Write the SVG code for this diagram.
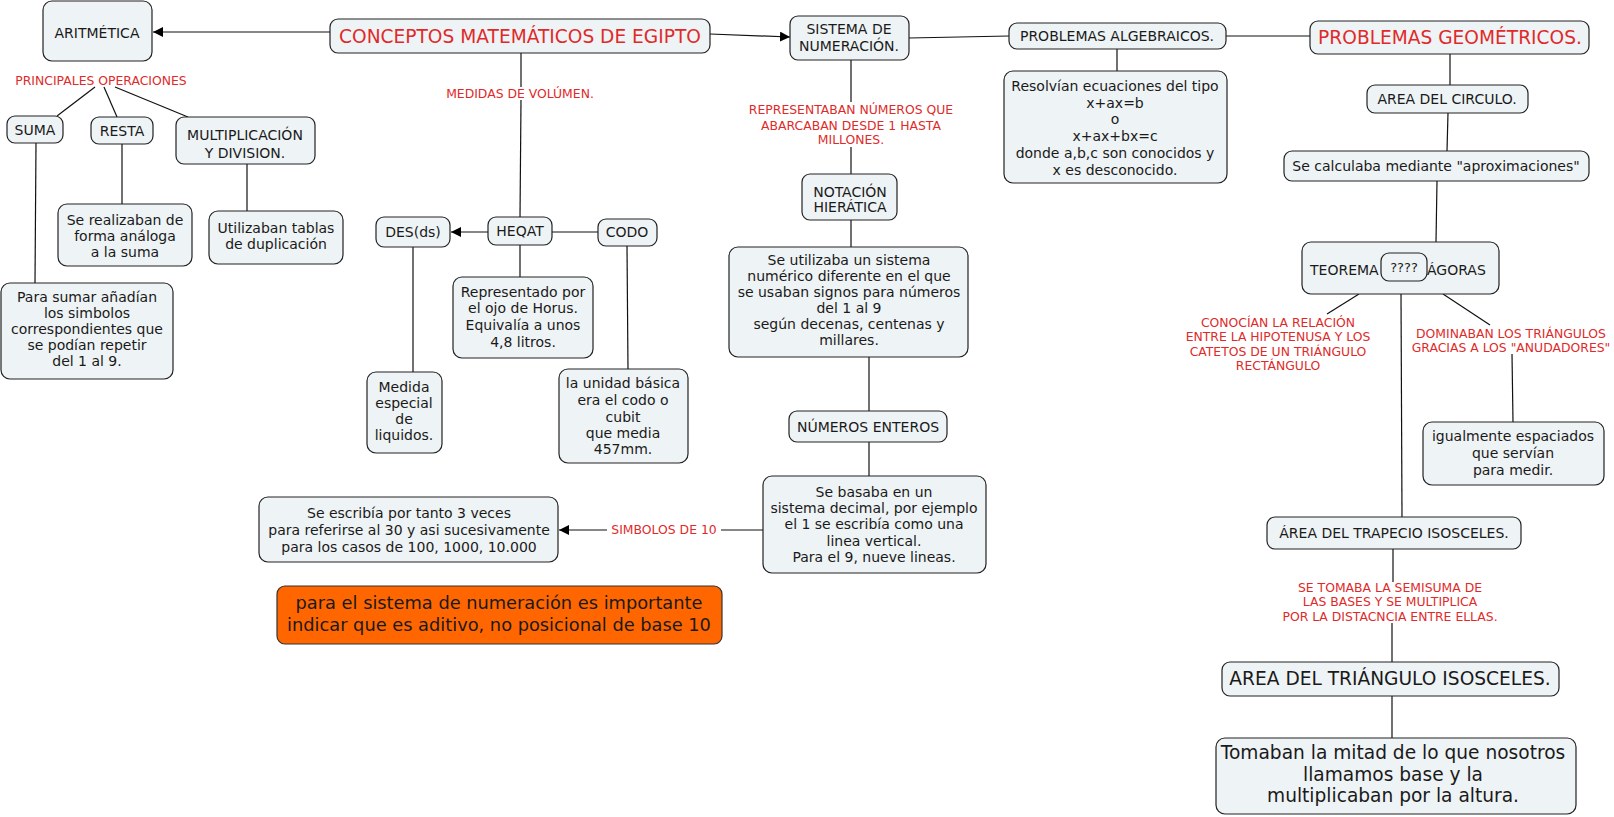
<svg xmlns="http://www.w3.org/2000/svg" width="1614" height="817" viewBox="0 0 1614 817">
<style>
.n{fill:#eef3f5;stroke:#222;stroke-width:1.2}
.o{fill:#ff6600;stroke:#333;stroke-width:1.2}
text{font-family:"DejaVu Sans",Verdana,sans-serif;text-anchor:middle;fill:#1a1a1a}
.t{font-size:14px}
.b{font-size:18.6px}
.ob{font-size:17.8px}
.r{font-size:12.4px;fill:#e02a2a}
.rb{font-size:18.6px;fill:#e02a2a}
.c line{stroke:#111;stroke-width:1.2}
</style>
<defs>
<marker id="ah" viewBox="0 0 10 10" refX="10" refY="5" markerWidth="10" markerHeight="10" markerUnits="userSpaceOnUse" orient="auto">
<path d="M0,0L10,5L0,10z" fill="#000"/>
</marker>
</defs>
<rect width="1614" height="817" fill="#fff"/>
<g class="c" id="connectors">
<line x1="330" y1="32" x2="153" y2="32" marker-end="url(#ah)"/>
<line x1="710" y1="34" x2="790" y2="37" marker-end="url(#ah)"/>
<line x1="909" y1="38" x2="1009" y2="36"/>
<line x1="1226" y1="36" x2="1310" y2="36"/>
<line x1="1117" y1="49" x2="1117" y2="71"/>
<line x1="1450" y1="54" x2="1450" y2="85"/>
<line x1="1448" y1="113" x2="1447" y2="151"/>
<line x1="1437" y1="181" x2="1436" y2="242"/>
<line x1="1359" y1="294" x2="1327" y2="314"/>
<line x1="1443" y1="294" x2="1490" y2="325"/>
<line x1="1512" y1="354" x2="1513" y2="422"/>
<line x1="1401" y1="294" x2="1402" y2="517"/>
<line x1="1393" y1="549" x2="1393" y2="582"/>
<line x1="1392" y1="623" x2="1392" y2="662"/>
<line x1="1392" y1="696" x2="1392" y2="738"/>
<line x1="95" y1="87" x2="57" y2="116"/>
<line x1="104" y1="87" x2="117" y2="117"/>
<line x1="115" y1="87" x2="188" y2="117"/>
<line x1="36" y1="143" x2="35" y2="283"/>
<line x1="122" y1="144" x2="122" y2="204"/>
<line x1="247" y1="164" x2="247" y2="211"/>
<line x1="521" y1="53" x2="521" y2="87"/>
<line x1="521" y1="100" x2="520" y2="217"/>
<line x1="488" y1="232" x2="451" y2="232" marker-end="url(#ah)"/>
<line x1="552" y1="232" x2="598" y2="232"/>
<line x1="520" y1="245" x2="520" y2="277"/>
<line x1="413" y1="247" x2="413" y2="372"/>
<line x1="627" y1="246" x2="628" y2="369"/>
<line x1="851" y1="60" x2="851" y2="102"/>
<line x1="851" y1="147" x2="851" y2="174"/>
<line x1="851" y1="220" x2="851" y2="247"/>
<line x1="869" y1="357" x2="869" y2="411"/>
<line x1="869" y1="442" x2="869" y2="476"/>
<line x1="763" y1="530" x2="721" y2="530"/>
<line x1="607" y1="530" x2="559" y2="530" marker-end="url(#ah)"/>
</g>
<g id="aritmetica"><rect class="n" x="43" y="1" width="109" height="60" rx="9"/><text class="t" x="97" y="38">ARITMÉTICA</text></g>
<g id="conceptos"><rect class="n" x="330" y="19" width="380" height="34" rx="8"/><text class="rb" x="520" y="43">CONCEPTOS MATEMÁTICOS DE EGIPTO</text></g>
<g id="sistema"><rect class="n" x="790" y="16" width="119" height="44" rx="8"/><text class="t" x="849" y="34">SISTEMA DE</text><text class="t" x="849" y="51">NUMERACIÓN.</text></g>
<g id="algebraicos"><rect class="n" x="1009" y="23" width="217" height="26" rx="8"/><text class="t" x="1117" y="41">PROBLEMAS ALGEBRAICOS.</text></g>
<g id="geometricos"><rect class="n" x="1310" y="21" width="279" height="33" rx="8"/><text class="rb" x="1450" y="44">PROBLEMAS GEOMÉTRICOS.</text></g>
<g id="resolvian"><rect class="n" x="1004" y="71" width="223" height="112" rx="9"/>
<text class="t" x="1115" y="91">Resolvían ecuaciones del tipo</text><text class="t" x="1115" y="108">x+ax=b</text><text class="t" x="1115" y="124">o</text><text class="t" x="1115" y="141">x+ax+bx=c</text><text class="t" x="1115" y="158">donde a,b,c son conocidos y</text><text class="t" x="1115" y="175">x es desconocido.</text></g>
<g id="circulo"><rect class="n" x="1367" y="85" width="161" height="28" rx="8"/><text class="t" x="1447" y="104">AREA DEL CIRCULO.</text></g>
<g id="calculaba"><rect class="n" x="1284" y="151" width="305" height="30" rx="8"/><text class="t" x="1436" y="171">Se calculaba mediante "aproximaciones"</text></g>
<g id="teorema"><rect class="n" x="1302" y="242" width="197" height="52" rx="9"/><text class="t" x="1310" y="275" style="text-anchor:start">TEOREMA</text><text class="t" x="1427" y="275" style="text-anchor:start">ÁGORAS</text></g>
<g id="pregunta"><rect class="n" x="1381" y="253" width="46" height="28" rx="8"/><text class="t" style="font-size:13px" x="1404" y="272">????</text></g>
<g id="conocian"><text class="r" x="1278" y="327">CONOCÍAN LA RELACIÓN</text><text class="r" x="1278" y="341">ENTRE LA HIPOTENUSA Y LOS</text><text class="r" x="1278" y="356">CATETOS DE UN TRIÁNGULO</text><text class="r" x="1278" y="370">RECTÁNGULO</text></g>
<g id="dominaban"><text class="r" x="1511" y="338">DOMINABAN LOS TRIÁNGULOS</text><text class="r" x="1511" y="352">GRACIAS A LOS "ANUDADORES"</text></g>
<g id="igualmente"><rect class="n" x="1423" y="422" width="181" height="63" rx="9"/><text class="t" x="1513" y="441">igualmente espaciados</text><text class="t" x="1513" y="458">que servían</text><text class="t" x="1513" y="475">para medir.</text></g>
<g id="trapecio"><rect class="n" x="1267" y="517" width="254" height="32" rx="8"/><text class="t" x="1394" y="538">ÁREA DEL TRAPECIO ISOSCELES.</text></g>
<g id="setomaba"><text class="r" x="1390" y="592">SE TOMABA LA SEMISUMA DE</text><text class="r" x="1390" y="606">LAS BASES Y SE MULTIPLICA</text><text class="r" x="1390" y="621">POR LA DISTACNCIA ENTRE ELLAS.</text></g>
<g id="triangulo"><rect class="n" x="1222" y="662" width="337" height="34" rx="8"/><text class="b" x="1390" y="685">AREA DEL TRIÁNGULO ISOSCELES.</text></g>
<g id="tomaban"><rect class="n" x="1216" y="738" width="360" height="76" rx="9"/><text class="b" x="1393" y="759">Tomaban la mitad de lo que nosotros</text><text class="b" x="1393" y="781">llamamos base y la</text><text class="b" x="1393" y="802">multiplicaban por la altura.</text></g>
<g id="principales"><text class="r" x="101" y="85">PRINCIPALES OPERACIONES</text></g>
<g id="suma"><rect class="n" x="7" y="116" width="56" height="27" rx="8"/><text class="t" x="35" y="135">SUMA</text></g>
<g id="resta"><rect class="n" x="91" y="117" width="62" height="27" rx="8"/><text class="t" x="122" y="136">RESTA</text></g>
<g id="multiplicacion"><rect class="n" x="176" y="117" width="139" height="47" rx="8"/><text class="t" x="245" y="140">MULTIPLICACIÓN</text><text class="t" x="245" y="158">Y DIVISION.</text></g>
<g id="realizaban"><rect class="n" x="58" y="204" width="134" height="62" rx="9"/><text class="t" x="125" y="225">Se realizaban de</text><text class="t" x="125" y="241">forma análoga</text><text class="t" x="125" y="257">a la suma</text></g>
<g id="utilizaban"><rect class="n" x="209" y="211" width="134" height="53" rx="9"/><text class="t" x="276" y="233">Utilizaban tablas</text><text class="t" x="276" y="249">de duplicación</text></g>
<g id="parasumar"><rect class="n" x="1" y="283" width="172" height="96" rx="9"/><text class="t" x="87" y="302">Para sumar añadían</text><text class="t" x="87" y="318">los simbolos</text><text class="t" x="87" y="334">correspondientes que</text><text class="t" x="87" y="350">se podían repetir</text><text class="t" x="87" y="366">del 1 al 9.</text></g>
<g id="medidas"><text class="r" x="520" y="98">MEDIDAS DE VOLÚMEN.</text></g>
<g id="des"><rect class="n" x="376" y="217" width="74" height="30" rx="8"/><text class="t" x="413" y="237">DES(ds)</text></g>
<g id="heqat"><rect class="n" x="488" y="217" width="64" height="28" rx="8"/><text class="t" x="520" y="236">HEQAT</text></g>
<g id="codo"><rect class="n" x="598" y="219" width="59" height="27" rx="8"/><text class="t" x="627" y="237">CODO</text></g>
<g id="representado"><rect class="n" x="453" y="277" width="140" height="81" rx="9"/><text class="t" x="523" y="297">Representado por</text><text class="t" x="523" y="313">el ojo de Horus.</text><text class="t" x="523" y="330">Equivalía a unos</text><text class="t" x="523" y="347">4,8 litros.</text></g>
<g id="medida"><rect class="n" x="367" y="372" width="75" height="81" rx="9"/><text class="t" x="404" y="392">Medida</text><text class="t" x="404" y="408">especial</text><text class="t" x="404" y="424">de</text><text class="t" x="404" y="440">liquidos.</text></g>
<g id="unidad"><rect class="n" x="559" y="369" width="129" height="94" rx="9"/><text class="t" x="623" y="388">la unidad básica</text><text class="t" x="623" y="405">era el codo o</text><text class="t" x="623" y="422">cubit</text><text class="t" x="623" y="438">que media</text><text class="t" x="623" y="454">457mm.</text></g>
<g id="representaban"><text class="r" x="851" y="114">REPRESENTABAN NÚMEROS QUE</text><text class="r" x="851" y="130">ABARCABAN DESDE 1 HASTA</text><text class="r" x="851" y="144">MILLONES.</text></g>
<g id="notacion"><rect class="n" x="802" y="174" width="95" height="46" rx="8"/><text class="t" x="850" y="197">NOTACIÓN</text><text class="t" x="850" y="212">HIERÁTICA</text></g>
<g id="seutilizaba"><rect class="n" x="729" y="247" width="239" height="110" rx="9"/><text class="t" x="849" y="265">Se utilizaba un sistema</text><text class="t" x="849" y="281">numérico diferente en el que</text><text class="t" x="849" y="297">se usaban signos para números</text><text class="t" x="849" y="313">del 1 al 9</text><text class="t" x="849" y="329">según decenas, centenas y</text><text class="t" x="849" y="345">millares.</text></g>
<g id="enteros"><rect class="n" x="789" y="411" width="158" height="31" rx="8"/><text class="t" x="868" y="432">NÚMEROS ENTEROS</text></g>
<g id="sebasaba"><rect class="n" x="763" y="476" width="223" height="97" rx="9"/><text class="t" x="874" y="497">Se basaba en un</text><text class="t" x="874" y="513">sistema decimal, por ejemplo</text><text class="t" x="874" y="529">el 1 se escribía como una</text><text class="t" x="874" y="546">linea vertical.</text><text class="t" x="874" y="562">Para el 9, nueve lineas.</text></g>
<g id="simbolos"><text class="r" x="664" y="534">SIMBOLOS DE 10</text></g>
<g id="seescribia"><rect class="n" x="259" y="497" width="299" height="65" rx="9"/><text class="t" x="409" y="518">Se escribía por tanto 3 veces</text><text class="t" x="409" y="535">para referirse al 30 y asi sucesivamente</text><text class="t" x="409" y="552">para los casos de 100, 1000, 10.000</text></g>
<g id="nota"><rect class="o" x="277" y="586" width="445" height="58" rx="8"/><text class="ob" x="499" y="609">para el sistema de numeración es importante</text><text class="ob" x="499" y="631">indicar que es aditivo, no posicional de base 10</text></g>
</svg>
